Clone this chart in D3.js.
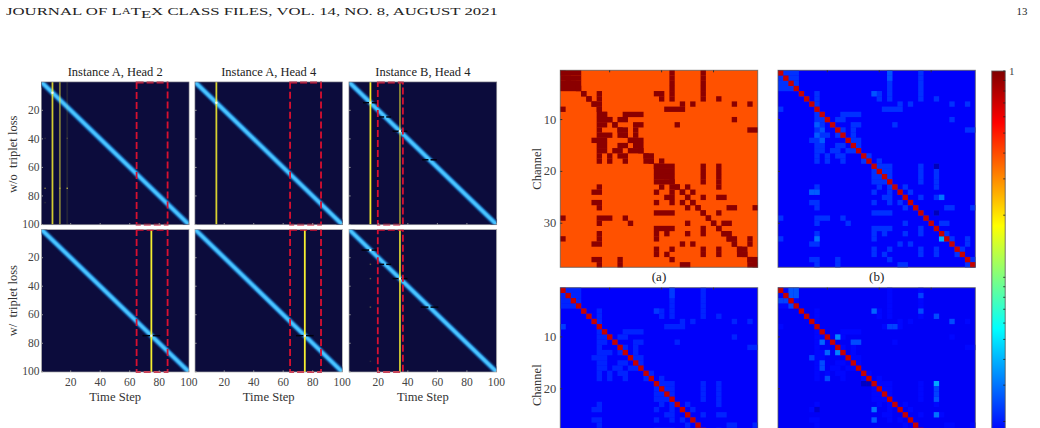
<!DOCTYPE html>
<html>
<head>
<meta charset="utf-8">
<script src="https://cdnjs.cloudflare.com/ajax/libs/d3/7.8.5/d3.min.js"></script>
<style>
  html, body { margin: 0; padding: 0; background: #fff; }
  svg { display: block; }
  text { font-family: "Liberation Serif", serif; }
</style>
</head>
<body>
<svg id="fig" width="1040" height="428"></svg>
<script>
// ---- attention maps: shared axis ticks and labels ----
const timeTicks = [20, 40, 60, 80, 100];
const panelTitles = ["Instance A, Head 2", "Instance A, Head 4", "Instance B, Head 4"];
const rowLabels = ["w/o  triplet loss", "w/  triplet loss"];

// width of the diagonal attention ridge, in time steps, with its strength
const ridgeWidths = [8, 7, 6, 5, 4, 3, 2];
const ridgeLevels = [0.05, 0.13, 0.25, 0.42, 0.62, 0.82, 1];

// highlighted steps per panel: [time step, strength]
const stepsA2Plain = [[8, 0.85], [13, 0.5], [18, 0.1]];
const stepsA4Plain = [[15, 0.88]];
const stepsB4Plain = [[15, 1], [35, 0.55]];
const stepsA2Triplet = [[75, 1]];
const stepsA4Triplet = [[75, 1]];
const stepsB4Triplet = [[35, 0.85]];

// suppressed rows per panel: [row, half length in steps]
const notchA2Plain = [];
const notchA4Plain = [];
const notchB4Plain = [[15, 5], [25, 4], [35, 5], [55, 5]];
const notchA2Triplet = [[75, 6]];
const notchA4Triplet = [[75, 6]];
const notchB4Triplet = [[15, 6], [25, 4], [35, 5], [55, 6]];

// bright crossing points on the ridge
const glowA2Plain = [8];
const glowA4Plain = [15];
const glowB4Plain = [15, 35];
const glowA2Triplet = [75];
const glowA4Triplet = [75];
const glowB4Triplet = [15, 35];

// isolated faint cells: [column, row, strength]
const specksA2Plain = [[3, 75, 0.5], [18, 75, 0.7], [13, 75, 0.5], [18, 40, 0.2], [3, 40, 0.15], [3, 85, 0.15]];
const specksB4Triplet = [[15, 25, 0.35], [15, 35, 0.35], [15, 55, 0.35], [15, 93, 0.15]];

// dashed window of time steps per instance
const windowA = [65, 86];
const windowB = [20, 37];

// ---- channel correlation matrices ----
const channelCount = 38;
const channelTicks = [10, 20, 30];
const matrixNames = ["(a)", "(b)"];

// strongly linked channel runs for each row: [first column, last column]
const linkRuns = [
  [[1,4],[22,22],[28,28]],
  [[1,4],[22,22],[28,28]],
  [[1,4],[22,22],[28,28]],
  [[1,4],[22,22],[28,28]],
  [[5,5],[8,8],[19,20],[22,22],[28,28]],
  [[6,6],[8,8],[20,20],[22,22],[28,28],[31,31]],
  [[7,8],[24,24],[26,26],[34,34],[37,37]],
  [[1,1],[8,8],[21,24]],
  [[8,9],[13,16]],
  [[8,10],[12,13],[34,34]],
  [[8,9],[11,11],[15,16],[23,23]],
  [[8,8],[12,13],[15,15],[37,38]],
  [[8,10],[12,13],[15,15]],
  [[7,9],[14,16]],
  [[8,9],[12,13],[15,16]],
  [[8,9],[11,12],[14,16]],
  [[8,8],[10,10],[12,13],[17,18]],
  [[8,8],[10,10],[13,13],[17,18],[20,20]],
  [[19,22],[28,28],[31,31]],
  [[19,22],[28,28],[31,31]],
  [[19,22],[28,28],[31,31]],
  [[19,22],[28,28],[31,31]],
  [[8,8],[20,20],[22,23],[25,25],[31,31]],
  [[7,8],[19,19],[22,22],[24,24],[26,26]],
  [[21,22],[25,25],[28,28],[31,32]],
  [[7,8],[19,19],[22,22],[24,24],[26,26]],
  [[8,8],[25,25],[27,27],[33,34],[38,38]],
  [[19,22],[28,28],[31,31]],
  [[1,1],[8,10],[13,13],[29,29]],
  [[8,8],[14,14],[25,25],[30,30],[32,33]],
  [[19,22],[28,28],[31,31]],
  [[8,8],[19,19],[21,21],[25,25],[28,28],[32,33]],
  [[1,1],[8,8],[19,19],[33,34],[37,37]],
  [[7,8],[24,24],[26,26],[34,34],[37,37]],
  [[19,19],[22,22],[28,28],[31,31],[35,36]],
  [[19,19],[21,21],[28,28],[31,31],[35,36]],
  [[7,8],[12,12],[22,22],[37,38]],
  [[8,8],[12,12],[24,25],[37,38]]
];

// panel levels: background, linked cells, diagonal
const levelsA = [0.39, 0.95, 0.95];
const levelsB = [0.0174, 0.0222, 0.73];
const levelsC = [0.0174, 0.0208, 0.73];
const levelsD = [0.017, 0.0183, 0.73];

// individually stronger or weaker cells: [row, column, value]
const cellsB = [
  [19,31,0.0125],[28,31,0.0125],[33,8,0.03],[33,32,0.04],[25,32,0.03],
  [11,8,0.027],[13,8,0.027],[14,9,0.027],[12,9,0.026],[5,19,0.026],[24,7,0.027],[24,8,0.027],[1,22,0.026],[2,22,0.026]
];
const cellsC = [[1,22,0.023],[2,22,0.023],[5,19,0.023],[8,1,0.023]];
const cellsD = [
  [19,31,0.038],[10,12,0.033],[13,12,0.032],[5,19,0.028],[11,9,0.028],[13,10,0.028],
  [24,19,0.03],[25,31,0.03],[22,31,0.026],[26,19,0.027],[20,31,0.024],[21,31,0.024],
  [6,31,0.025],[7,34,0.025],[2,28,0.024],[5,28,0.025],[1,3,0.026],[1,4,0.026],[2,3,0.026],[2,4,0.026],
  [3,1,0.024],[3,2,0.024],[4,3,0.024],[14,7,0.024],[15,9,0.025],[16,9,0.025],[18,10,0.025],[11,15,0.025],[11,16,0.025],
  [8,23,0.024],[8,22,0.024],[24,8,0.014],[19,17,0.013],[19,18,0.013]
];

// colour bar: logarithmic range with its minor ticks
const barRange = [0.01, 1];
const barTicks = [1, 0.9, 0.8, 0.7, 0.6, 0.5, 0.4, 0.3, 0.2, 0.1, 0.09, 0.08, 0.07, 0.06, 0.05, 0.04, 0.03, 0.02];
const jetStops = [0, 0.125, 0.375, 0.625, 0.875, 1];
const jetColours = ["rgb(0,0,143)", "rgb(0,0,255)", "rgb(0,255,255)", "rgb(255,255,0)", "rgb(255,0,0)", "rgb(128,0,0)"];

const svg = d3.select("#fig");
const defs = svg.append("defs");

// ---- running header ----
const header = svg.append("text").attr("x", 6).attr("y", 15).attr("font-size", 10.8).attr("fill", "#222")
  .attr("textLength", 492).attr("lengthAdjust", "spacingAndGlyphs");
header.append("tspan").text("JOURNAL OF L");
header.append("tspan").attr("font-size", 8).attr("dy", -1.5).text("A");
header.append("tspan").attr("dy", 1.5).text("T");
header.append("tspan").attr("dy", 2.5).text("E");
header.append("tspan").attr("dy", -2.5).text("X CLASS FILES, VOL. 14, NO. 8, AUGUST 2021");
svg.append("text").attr("x", 1022).attr("y", 15).attr("text-anchor", "middle").attr("font-size", 10.8).attr("fill", "#222").text("13");

// ---- attention grid ----
const columnSpans = [[41.4, 189], [195, 342.4], [349, 496.7]];
const rowSpans = [[82, 224.7], [229.4, 372]];
const ridgeColour = d3.scaleLinear()
  .domain([0, 0.25, 0.6, 1])
  .range(["#0c0c3c", "#123a78", "#2786cf", "#4ac4ff"]);

const panels = [
  { r: 0, c: 0, steps: stepsA2Plain, notch: notchA2Plain, glow: glowA2Plain, specks: specksA2Plain, win: windowA },
  { r: 0, c: 1, steps: stepsA4Plain, notch: notchA4Plain, glow: glowA4Plain, specks: [], win: windowA },
  { r: 0, c: 2, steps: stepsB4Plain, notch: notchB4Plain, glow: glowB4Plain, specks: [], win: windowB },
  { r: 1, c: 0, steps: stepsA2Triplet, notch: notchA2Triplet, glow: glowA2Triplet, specks: [], win: windowA },
  { r: 1, c: 1, steps: stepsA4Triplet, notch: notchA4Triplet, glow: glowA4Triplet, specks: [], win: windowA },
  { r: 1, c: 2, steps: stepsB4Triplet, notch: notchB4Triplet, glow: glowB4Triplet, specks: specksB4Triplet, win: windowB }
];

panels.forEach((p, i) => {
  const x = d3.scaleLinear().domain([0.5, 100.5]).range(columnSpans[p.c]);
  const y = d3.scaleLinear().domain([0.5, 100.5]).range(rowSpans[p.r]);
  const perStep = x(2) - x(1);
  const clipId = "heat" + i;
  defs.append("clipPath").attr("id", clipId).append("rect")
    .attr("x", x(0.5)).attr("y", y(0.5)).attr("width", x(100.5) - x(0.5)).attr("height", y(100.5) - y(0.5));

  const g = svg.append("g");
  const inner = g.append("g").attr("clip-path", `url(#${clipId})`);
  inner.append("rect").attr("x", x(0.5)).attr("y", y(0.5))
    .attr("width", x(100.5) - x(0.5)).attr("height", y(100.5) - y(0.5)).attr("fill", ridgeColour(0));

  // diagonal ridge drawn as nested strokes, widest first
  inner.selectAll("line.ridge").data(d3.zip(ridgeWidths, ridgeLevels)).join("line")
    .attr("x1", x(0.5) - 5).attr("y1", y(0.5) - 5 * (y(2) - y(1)) / perStep)
    .attr("x2", x(100.5) + 5).attr("y2", y(100.5) + 5 * (y(2) - y(1)) / perStep)
    .attr("stroke", d => ridgeColour(d[1]))
    .attr("stroke-width", d => d[0] * perStep * 0.707);

  // each suppressed row darkens both sides of the ridge and leaves its crest open
  const notchSides = p.notch.flatMap(d => [
    { row: d[0], from: d[0] - d[1], to: d[0] - 0.7 },
    { row: d[0], from: d[0] + 0.7, to: d[0] + d[1] }
  ]);
  inner.selectAll("rect.notch").data(notchSides).join("rect")
    .attr("x", d => x(d.from)).attr("width", d => x(d.to) - x(d.from))
    .attr("y", d => y(d.row - 0.5)).attr("height", y(2) - y(1))
    .attr("fill", "#00000e");

  inner.selectAll("rect.speck").data(p.specks).join("rect")
    .attr("x", d => x(d[0] - 0.5)).attr("width", perStep)
    .attr("y", d => y(d[1] - 0.5)).attr("height", y(2) - y(1))
    .attr("fill", "#e6dc50").attr("opacity", d => d[2]);

  inner.selectAll("line.step").data(p.steps).join("line")
    .attr("x1", d => x(d[0])).attr("x2", d => x(d[0]))
    .attr("y1", y(0.5)).attr("y2", y(100.5))
    .attr("stroke", "#f6ee30").attr("stroke-width", 1.8)
    .attr("opacity", d => d[1]);

  inner.selectAll("circle.glow").data(p.glow).join("circle")
    .attr("cx", d => x(d)).attr("cy", d => y(d)).attr("r", 1.2)
    .attr("fill", "#f4ffff").attr("opacity", 0.9);

  // dashed window of interest
  g.append("rect")
    .attr("x", x(p.win[0])).attr("width", x(p.win[1]) - x(p.win[0]))
    .attr("y", y(0.5) + 0.5).attr("height", y(100.5) - y(0.5) - 0.5)
    .attr("fill", "none").attr("stroke", "#d81030").attr("stroke-width", 1.8)
    .attr("stroke-dasharray", "7 3");

  // frame and ticks
  const frame = p.r === 1 ? "#a8a8a8" : "#6a6a78";
  g.append("rect").attr("x", x(0.5)).attr("y", y(0.5))
    .attr("width", x(100.5) - x(0.5)).attr("height", y(100.5) - y(0.5))
    .attr("fill", "none").attr("stroke", frame).attr("stroke-width", 0.7);

  const bottom = d3.axisBottom(x).tickValues(timeTicks).tickSize(-1.6).tickPadding(6)
    .tickFormat(p.r === 1 ? d3.format("d") : "");
  const xAxis = g.append("g").attr("transform", `translate(0,${y(100.5)})`).call(bottom);
  xAxis.select(".domain").remove();
  xAxis.selectAll("line").attr("stroke", "#999");
  xAxis.selectAll("text").attr("font-size", 11.5).attr("fill", "#444").attr("font-family", "Liberation Serif");

  const left = d3.axisLeft(y).tickValues(timeTicks).tickSize(-1.6).tickPadding(2)
    .tickFormat(p.c === 0 ? d3.format("d") : "");
  const yAxis = g.append("g").attr("transform", `translate(${x(0.5)},0)`).call(left);
  yAxis.select(".domain").remove();
  yAxis.selectAll("line").attr("stroke", "#999");
  yAxis.selectAll("text").attr("font-size", 11.5).attr("fill", "#444").attr("font-family", "Liberation Serif");

  const cx = (x(0.5) + x(100.5)) / 2;
  if (p.r === 0) {
    g.append("text").attr("x", cx).attr("y", 76).attr("text-anchor", "middle")
      .attr("font-size", 12.5).attr("fill", "#222").text(panelTitles[p.c]);
  } else {
    g.append("text").attr("x", cx).attr("y", 401).attr("text-anchor", "middle")
      .attr("font-size", 12.6).attr("fill", "#333").text("Time Step");
  }
  if (p.c === 0) {
    const my = (y(0.5) + y(100.5)) / 2 + (p.r === 0 ? 1 : 0);
    g.append("text").attr("transform", `translate(17,${my}) rotate(-90)`).attr("text-anchor", "middle")
      .attr("font-size", 12.5).attr("fill", "#333").attr("xml:space", "preserve").text(rowLabels[p.r]);
  }
});

// ---- correlation matrices, log-coloured ----
const jetT = d3.scaleLinear().domain(jetStops).range(jetColours).interpolate(d3.interpolateRgb);
const logT = d3.scaleLog().domain(barRange).range([0, 1]).clamp(true);
const channelColour = v => jetT(logT(v));
const channels = d3.range(1, channelCount + 1);

const matrices = [
  { x: [560.3, 757.7], y: [70.3, 267.3], levels: levelsA, cells: [], label: matrixNames[0], channelAxis: true },
  { x: [778, 975.3], y: [70.3, 267.3], levels: levelsB, cells: cellsB, label: matrixNames[1], channelAxis: false },
  { x: [560.3, 757.7], y: [287.7, 484.7], levels: levelsC, cells: cellsC, channelAxis: true },
  { x: [778, 975.3], y: [287.7, 484.7], levels: levelsD, cells: cellsD, channelAxis: false }
];

matrices.forEach(m => {
  const bx = d3.scaleBand().domain(channels).range(m.x);
  const by = d3.scaleBand().domain(channels).range(m.y);
  const step = bx.step();
  const g = svg.append("g");
  g.append("rect").attr("x", m.x[0]).attr("y", m.y[0]).attr("width", m.x[1] - m.x[0]).attr("height", m.y[1] - m.y[0])
    .attr("fill", channelColour(m.levels[0]));

  const [bg, link, diag] = m.levels;
  const links = linkRuns.flatMap((runs, r) => runs.map(run => ({ row: r + 1, c0: run[0], c1: run[1] })));
  g.selectAll("rect.link").data(links).join("rect")
    .attr("x", d => bx(d.c0)).attr("y", d => by(d.row))
    .attr("width", d => (d.c1 - d.c0 + 1) * step + 0.15).attr("height", step + 0.15)
    .attr("fill", channelColour(link));
  g.selectAll("rect.cell").data(m.cells).join("rect")
    .attr("x", d => bx(d[1])).attr("y", d => by(d[0]))
    .attr("width", step + 0.15).attr("height", step + 0.15)
    .attr("fill", d => channelColour(d[2]));
  g.selectAll("rect.diag").data(channels).join("rect")
    .attr("x", d => bx(d)).attr("y", d => by(d))
    .attr("width", step + 0.15).attr("height", step + 0.15)
    .attr("fill", channelColour(diag));

  g.append("rect").attr("x", m.x[0]).attr("y", m.y[0]).attr("width", m.x[1] - m.x[0]).attr("height", m.y[1] - m.y[0])
    .attr("fill", "none").attr("stroke", "#555").attr("stroke-opacity", 0.75).attr("stroke-width", 1);

  // only channels that fall on the page get a tick
  const shownTicks = channelTicks.filter(c => by(c) + step < 425);
  const left = d3.axisLeft(by).tickValues(shownTicks).tickSize(-2).tickPadding(4)
    .tickFormat(m.channelAxis ? d => d : "");
  const yAxis = g.append("g").attr("transform", `translate(${m.x[0]},0)`).call(left);
  yAxis.select(".domain").remove();
  yAxis.selectAll("line").attr("stroke", "#333");
  yAxis.selectAll("text").attr("font-size", 12.5).attr("fill", "#444").attr("font-family", "Liberation Serif");

  const top = d3.axisTop(bx).tickValues(channelTicks).tickSize(-2).tickFormat("");
  const xAxis = g.append("g").attr("transform", `translate(0,${m.y[0]})`).call(top);
  xAxis.select(".domain").remove();
  xAxis.selectAll("line").attr("stroke", "#333");

  const cx = (m.x[0] + m.x[1]) / 2;
  if (m.channelAxis) {
    g.append("text").attr("transform", `translate(541,${(m.y[0] + m.y[1]) / 2 + (m.y[0] > 100 ? -1 : 0)}) rotate(-90)`)
      .attr("text-anchor", "middle").attr("font-size", 12.5).attr("fill", "#333").text("Channel");
  }
  if (m.label) {
    g.append("text").attr("x", cx).attr("y", 281).attr("text-anchor", "middle")
      .attr("font-size", 13).attr("fill", "#222").text(m.label);
  }
});

// ---- colour bar ----
const barX = [991.8, 1005.2];
const barY = d3.scaleLog().domain([1, 0.01]).range([71, 483.6]);
const grad = defs.append("linearGradient").attr("id", "jet").attr("x1", 0).attr("y1", 1).attr("x2", 0).attr("y2", 0);
grad.selectAll("stop").data(jetStops).join("stop")
  .attr("offset", d => d).attr("stop-color", (d, i) => jetColours[i]);
const bar = svg.append("g");
bar.append("rect").attr("x", barX[0]).attr("y", barY(1)).attr("width", barX[1] - barX[0]).attr("height", barY(0.01) - barY(1))
  .attr("fill", "url(#jet)").attr("stroke", "#555").attr("stroke-width", 1).attr("stroke-opacity", 0.8);
bar.selectAll("line").data(barTicks).join("line")
  .attr("x1", barX[1] - 2).attr("x2", barX[1])
  .attr("y1", d => barY(d)).attr("y2", d => barY(d))
  .attr("stroke", "#222").attr("stroke-width", 0.8);
bar.append("text").attr("x", 1009).attr("y", barY(1) + 3.5).attr("font-size", 11).attr("fill", "#444").text(barTicks[0]);
</script>
</body>
</html>
